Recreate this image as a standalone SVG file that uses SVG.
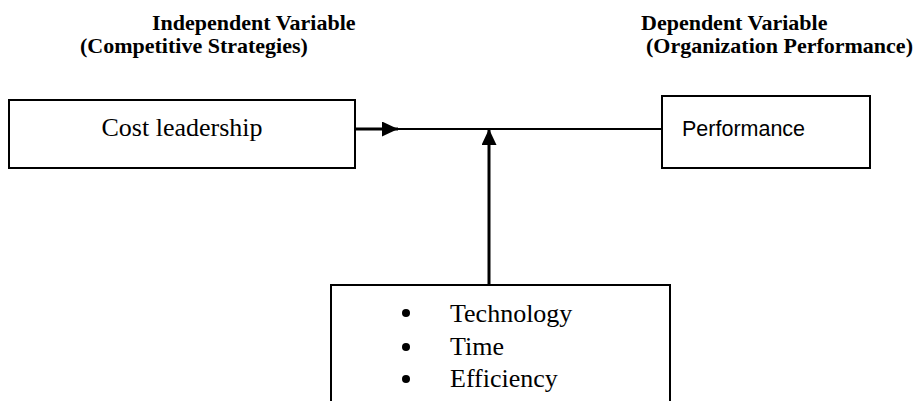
<svg xmlns="http://www.w3.org/2000/svg" width="922" height="401" viewBox="0 0 922 401">
<style>
.box{fill:#fff;stroke:#000;stroke-width:2}
.serif{font-family:"Liberation Serif","Times New Roman",serif;fill:#000}
.sans{font-family:"Liberation Sans",Arial,sans-serif;fill:#000}
.title{font-weight:bold;font-size:22px}
.body{font-size:26px}
.ln{stroke:#000;fill:none}
</style>
<defs>
<marker id="ah" markerWidth="16" markerHeight="15" refX="16" refY="7.5" orient="auto" markerUnits="userSpaceOnUse" viewBox="0 0 16 15">
<path d="M0,0 L16,7.5 L0,15 Z" fill="#000"/>
</marker>
</defs>
<rect width="922" height="401" fill="#fff"/>
<g id="titles">
<text class="serif title" x="152" y="30">Independent Variable</text>
<text class="serif title" x="80" y="53">(Competitive Strategies)</text>
<text class="serif title" x="641" y="30">Dependent Variable</text>
<text class="serif title" x="646" y="53">(Organization Performance)</text>
</g>
<g id="connectors">
<line class="ln" x1="355" y1="129" x2="398" y2="129" stroke-width="3" marker-end="url(#ah)"/>
<line class="ln" x1="396" y1="129" x2="662" y2="129" stroke-width="2"/>
<line class="ln" x1="489" y1="285" x2="489" y2="129" stroke-width="3" marker-end="url(#ah)"/>
</g>
<g id="cost">
<rect class="box" x="9" y="100" width="346" height="68"/>
<text class="serif body" x="182" y="136" text-anchor="middle">Cost leadership</text>
</g>
<g id="performance">
<rect class="box" x="662" y="96" width="208" height="72"/>
<text class="sans" x="682" y="136" font-size="21.5">Performance</text>
</g>
<g id="moderators">
<rect class="box" x="331" y="285" width="339" height="130"/>
<circle cx="406" cy="313" r="4"/>
<circle cx="406" cy="347" r="4"/>
<circle cx="406" cy="379" r="4"/>
<text class="serif body" x="450" y="322">Technology</text>
<text class="serif body" x="450" y="355">Time</text>
<text class="serif body" x="450" y="387">Efficiency</text>
</g>
</svg>
